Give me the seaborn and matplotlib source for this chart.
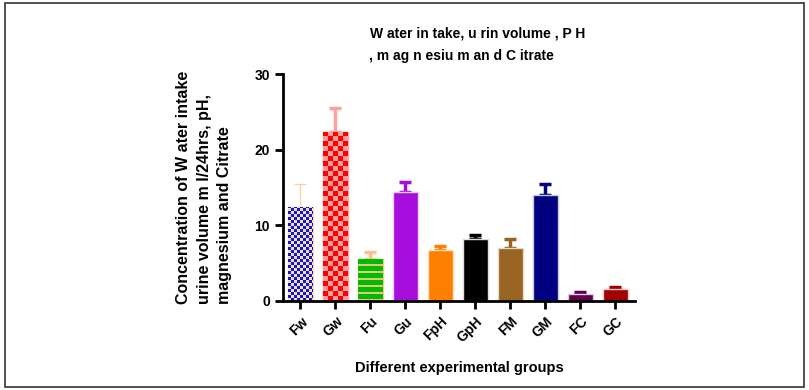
import numpy as np
import pandas as pd
import matplotlib
matplotlib.use("Agg")
import matplotlib.pyplot as plt
import seaborn as sns
from matplotlib.colors import to_rgb
from matplotlib.patches import Rectangle

# dati
groups = ["Fw", "Gw", "Fu", "Gu", "FpH", "GpH", "FM", "GM", "FC", "GC"]
means = [12.4, 22.3, 5.5, 14.4, 6.7, 8.2, 7.0, 14.0, 0.9, 1.6]
sd = [3.1, 3.2, 1.0, 1.3, 0.6, 0.5, 1.2, 1.4, 0.3, 0.3]
bar_colors = ["#1010F0", "#FF0000", "#00BB00", "#A70DDC", "#FF8000",
              "#000000", "#976421", "#000080", "#5E0052", "#A10000"]
err_colors = ["#FFD2A6", "#FFA0A0", "#FFC08C", "#A70DDC", "#FF8000",
              "#000000", "#976421", "#000080", "#5E0052", "#A10000"]
edge_colors = ["#FFD8A8", "#FFA8A8", "#E8CC90", "#E8D0F0", "#FFE0C0",
               "#DDDDDD", "#E8D8C8", "#C8C8E0", "#E0C8DC", "#E8C8C8"]

df = pd.DataFrame({"group": groups, "value": means})

plt.rcParams["font.family"] = ["Liberation Sans", "DejaVu Sans"]
plt.rcParams["font.weight"] = "bold"

fig = plt.figure(figsize=(8.09, 3.90), dpi=100)
ax = fig.add_axes([283 / 809, 89 / 390, 352 / 809, 227 / 390])

# barre di errore (solo verso l'alto) dietro le barre
for i in range(len(groups)):
    lw = 1.0 if i == 0 else 2.5
    ax.errorbar(i, means[i], yerr=[[0], [sd[i]]], fmt="none", ecolor=err_colors[i],
                elinewidth=lw, capsize=4.3, capthick=lw, zorder=1)

sns.barplot(data=df, x="group", y="value", hue="group", palette=dict(zip(groups, bar_colors)),
            width=0.71, saturation=1, legend=False, ax=ax, zorder=2, linewidth=1)

ax.set_xlim(-0.5, 9.56)
ax.set_ylim(0, 30)
ax.set_yticks([0, 10, 20, 30])
fig.canvas.draw()

# texture: scacchiera per Fw e Gw, righe per Fu
def texture(patch, kind, c1, c2, cell):
    x0, y0 = patch.get_x(), patch.get_y()
    w, h = patch.get_width(), patch.get_height()
    p0 = ax.transData.transform((x0, y0))
    p1 = ax.transData.transform((x0 + w, y0 + h))
    ncol = max(1, int(round(abs(p1[0] - p0[0]))))
    nrow = max(1, int(round(abs(p1[1] - p0[1]))))
    yy, xx = np.mgrid[0:nrow, 0:ncol]
    if kind == "check":
        mask = ((xx // cell) + (yy // cell)) % 2 == 0
    else:
        mask = (yy % cell) < 2
    img = np.zeros((nrow, ncol, 3))
    img[mask] = to_rgb(c2)
    img[~mask] = to_rgb(c1)
    im = ax.imshow(img, extent=[x0, x0 + w, y0, y0 + h], origin="lower",
                   interpolation="nearest", aspect="auto", zorder=2.5)
    im.set_clip_path(patch)

for i, p in enumerate(ax.patches):
    p.set_edgecolor(edge_colors[i])
    if i == 0:
        texture(p, "check", "#1010F0", "#F6E48C", 3)
    elif i == 1:
        texture(p, "check", "#FF0000", "#FF9C9C", 5)
    elif i == 2:
        texture(p, "stripe", "#00BB00", "#E4C682", 7)

ax.set_xlim(-0.5, 9.56)
ax.set_ylim(0, 30)

sns.despine(ax=ax)
for s in ["left", "bottom"]:
    ax.spines[s].set_linewidth(2)
ax.tick_params(axis="both", width=2, length=6, labelsize=10, direction="out")
ax.set_xticks(range(len(groups)))
ax.set_xticklabels(groups, rotation=45, ha="right", rotation_mode="anchor", fontweight="bold")
for t in ax.get_yticklabels():
    t.set_fontweight("bold")

ax.set_xlabel("Different experimental groups", fontsize=10.5, fontweight="bold", labelpad=12)
ax.set_ylabel("Concentration of W ater intake\nurine volume m l/24hrs, pH,\nmagnesium and Citrate",
              fontsize=11.5, fontweight="bold", labelpad=16, multialignment="left", linespacing=1.45)

fig.text(0.59, 0.915, "W ater in take, u rin volume , P H", ha="center", va="center",
         fontsize=10, fontweight="bold")
fig.text(0.57, 0.857, ", m ag n esiu m an d C itrate", ha="center", va="center",
         fontsize=10, fontweight="bold")

# cornice intorno all'immagine
fig.patches.append(Rectangle((5 / 809, 3 / 390), 799 / 809, 384 / 390, transform=fig.transFigure,
                             fill=False, edgecolor="#333333", linewidth=1.2))

fig.savefig("out.png", dpi=100)
